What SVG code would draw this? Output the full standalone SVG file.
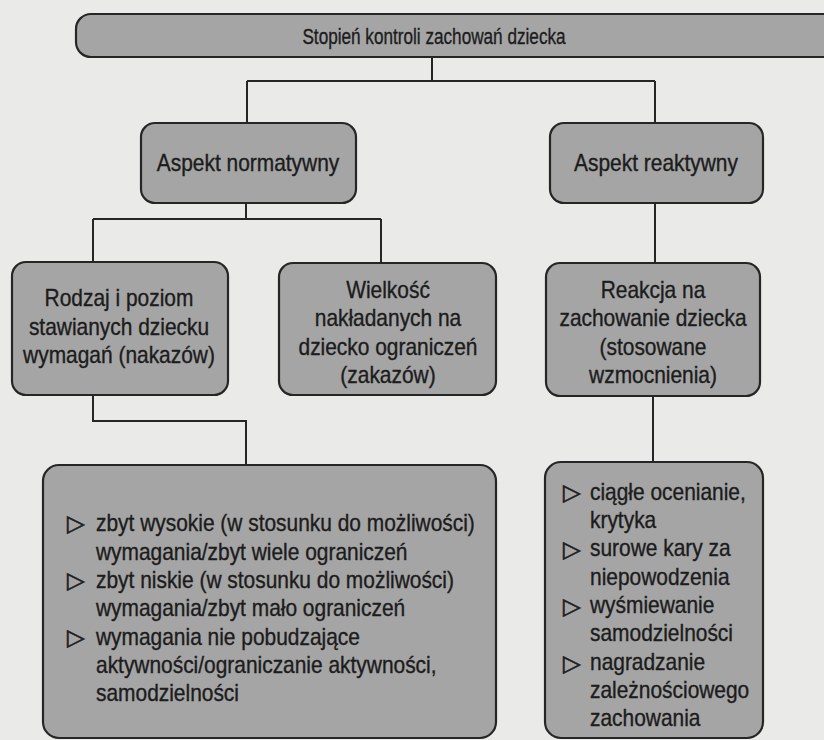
<svg xmlns="http://www.w3.org/2000/svg" width="824" height="740" viewBox="0 0 824 740">
<style>
.bg{fill:#eaeae8}
.box{fill:#a5a5a5;stroke:#262626;stroke-width:2.2}
.ln{fill:none;stroke:#262626;stroke-width:2}
text{font-family:"Liberation Sans","Noto Sans",sans-serif;fill:#1c1c1c;stroke:#1c1c1c;stroke-width:0.35}
.t{font-size:22px;text-anchor:middle}
.l{font-size:23px;text-anchor:middle}
.li{font-size:23px}
.b{font-family:"DejaVu Sans",sans-serif;font-size:23px;stroke-width:0.6}
</style>
<rect class="bg" x="0" y="0" width="824" height="740"/>
<g id="connectors">
<path class="ln" d="M432 57 V81 M247 81 H655 M247 81 V123 M655 81 V123"/>
<path class="ln" d="M246 202 V219 M93 219 H381 M93 219 V263 M381 219 V263"/>
<path class="ln" d="M655 203 V263"/>
<path class="ln" d="M93 395 V421 H246 V465"/>
<path class="ln" d="M653 396 V462"/>
</g>
<g id="n-root">
<rect class="box" x="76" y="14" width="790" height="43" rx="15"/>
<g transform="translate(434,0) scale(0.78,1)"><text class="t" x="0" y="44">Stopień kontroli zachowań dziecka</text></g>
</g>
<g id="n-normatywny">
<rect class="box" x="141" y="123" width="215" height="80" rx="14"/>
<g transform="translate(248,0) scale(0.91,1)"><text class="l" x="0" y="171">Aspekt normatywny</text></g>
</g>
<g id="n-reaktywny">
<rect class="box" x="550" y="123" width="213" height="80" rx="14"/>
<g transform="translate(656,0) scale(0.91,1)"><text class="l" x="0" y="171">Aspekt reaktywny</text></g>
</g>
<g id="n-rodzaj">
<rect class="box" x="12" y="262" width="216" height="133" rx="14"/>
<g transform="translate(119,0) scale(0.91,1)">
<text class="l" x="0" y="306">Rodzaj i poziom</text>
<text class="l" x="0" y="335">stawianych dziecku</text>
<text class="l" x="0" y="363">wymagań (nakazów)</text>
</g>
</g>
<g id="n-wielkosc">
<rect class="box" x="279" y="263" width="217" height="132" rx="14"/>
<g transform="translate(388,0) scale(0.91,1)">
<text class="l" x="0" y="298">Wielkość</text>
<text class="l" x="0" y="326">nakładanych na</text>
<text class="l" x="0" y="355">dziecko ograniczeń</text>
<text class="l" x="0" y="383">(zakazów)</text>
</g>
</g>
<g id="n-reakcja">
<rect class="box" x="546" y="263" width="214" height="133" rx="14"/>
<g transform="translate(653,0) scale(0.91,1)">
<text class="l" x="0" y="298">Reakcja na</text>
<text class="l" x="0" y="326">zachowanie dziecka</text>
<text class="l" x="0" y="355">(stosowane</text>
<text class="l" x="0" y="383">wzmocnienia)</text>
</g>
</g>
<g id="n-lista-normatywna">
<rect class="box" x="43" y="465" width="453" height="273" rx="16"/>
<text class="b" x="67" y="531">▷</text>
<text class="b" x="67" y="588">▷</text>
<text class="b" x="67" y="645">▷</text>
<g transform="translate(96,0) scale(0.91,1)">
<text class="li" x="0" y="531">zbyt wysokie (w stosunku do możliwości)</text>
<text class="li" x="0" y="560">wymagania/zbyt wiele ograniczeń</text>
<text class="li" x="0" y="588">zbyt niskie (w stosunku do możliwości)</text>
<text class="li" x="0" y="616">wymagania/zbyt mało ograniczeń</text>
<text class="li" x="0" y="645">wymagania nie pobudzające</text>
<text class="li" x="0" y="673">aktywności/ograniczanie aktywności,</text>
<text class="li" x="0" y="701">samodzielności</text>
</g>
</g>
<g id="n-lista-reaktywna">
<rect class="box" x="545" y="462" width="218" height="276" rx="16"/>
<text class="b" x="563" y="500">▷</text>
<text class="b" x="563" y="557">▷</text>
<text class="b" x="563" y="614">▷</text>
<text class="b" x="563" y="671">▷</text>
<g transform="translate(590,0) scale(0.91,1)">
<text class="li" x="0" y="500">ciągłe ocenianie,</text>
<text class="li" x="0" y="528">krytyka</text>
<text class="li" x="0" y="556">surowe kary za</text>
<text class="li" x="0" y="585">niepowodzenia</text>
<text class="li" x="0" y="613">wyśmiewanie</text>
<text class="li" x="0" y="641">samodzielności</text>
<text class="li" x="0" y="670">nagradzanie</text>
<text class="li" x="0" y="698">zależnościowego</text>
<text class="li" x="0" y="726">zachowania</text>
</g>
</g>
</svg>
